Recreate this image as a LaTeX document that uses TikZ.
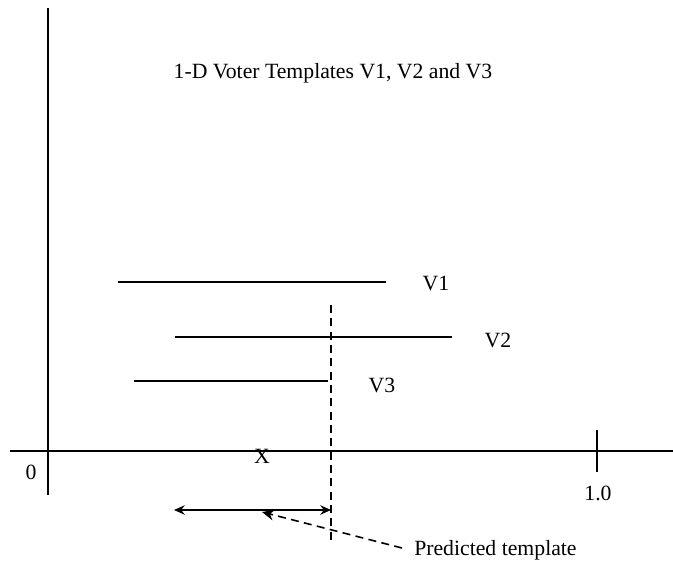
\documentclass[tikz,border=0pt]{standalone}
\usepackage{fontspec}
\setmainfont{Liberation Serif}
\usetikzlibrary{arrows.meta}
\tikzset{
    >=Stealth,
    axis line/.style={line width=1.8pt},
    voter line/.style={line width=1.8pt},
    guide line/.style={line width=1.2pt, dash pattern=on 6pt off 4pt},
    lbl/.style={inner sep=0pt, font=\fontsize{16.3}{18}\selectfont}
}

\begin{document}
\begin{tikzpicture}[x=0.75pt, y=-0.75pt]
    \useasboundingbox (0,0) rectangle (673,563);

    % axes
    \coordinate (ytop) at (48,8);
    \coordinate (ybot) at (48,495);
    \coordinate (xleft) at (10,451);
    \coordinate (xright) at (673,451);
    \draw[axis line] (ytop) -- (ybot);
    \draw[axis line] (xleft) -- (xright);
    \coordinate (tick1) at (597,430);
    \coordinate (tick2) at (597,472);
    \draw[axis line] (tick1) -- (tick2);
    \node[lbl] (zero) at (31,472) {0};
    \node[lbl] (one) at (598,493) {1.0};

    \node[lbl] (title) at (333,73) {1-D Voter Templates V1, V2 and V3};

    % voter templates
    \coordinate (v1a) at (118,282);
    \coordinate (v1b) at (386,282);
    \coordinate (v2a) at (175,337);
    \coordinate (v2b) at (452,337);
    \coordinate (v3a) at (134,381);
    \coordinate (v3b) at (328,381);
    \draw[voter line] (v1a) -- (v1b);
    \draw[voter line] (v2a) -- (v2b);
    \draw[voter line] (v3a) -- (v3b);
    \node[lbl] (V1) at (436,283) {V1};
    \node[lbl] (V2) at (498,340) {V2};
    \node[lbl] (V3) at (382,385) {V3};

    \node[lbl] (X) at (262,456) {X};

    % prediction
    \coordinate (dtop) at (331,305);
    \coordinate (dbot) at (331,542);
    \draw[guide line] (dtop) -- (dbot);
    \coordinate (pa) at (174,510);
    \coordinate (pb) at (331,510);
    \draw[line width=1.6pt, {Stealth[length=8pt,width=7pt]}-{Stealth[length=8pt,width=7pt]}] (pa) -- (pb);
    \node[lbl, anchor=west] (pred) at (414,550) {Predicted template};
    \coordinate (ptip) at (262,512);
    \coordinate (pstart) at (402,548);
    \draw[guide line, -{Stealth[length=9pt,width=8pt]}] (pstart) -- (ptip);

\end{tikzpicture}
\end{document}
